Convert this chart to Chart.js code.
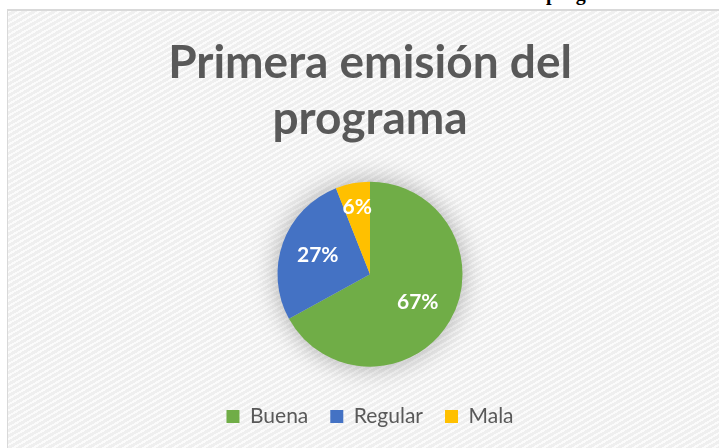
<!DOCTYPE html>
<html>
<head>
<meta charset="utf-8">
<script src="https://cdn.jsdelivr.net/npm/chart.js@4.4.1/dist/chart.umd.min.js"></script>
<style>
  html, body { margin: 0; padding: 0; background: #ffffff; }
  body { width: 719px; height: 448px; position: relative; overflow: hidden; }
  #clipped {
    position: absolute; left: 546px; top: -18px;
    font: bold 20px "Liberation Serif", serif; color: #000;
  }
  #frame {
    position: absolute; left: 7px; top: 9px; width: 712px; height: 439px;
    border-left: 1px solid #d9d9d9; border-top: 2px solid #d9d9d9;
    box-sizing: border-box;
    background-color: #f3f3f3;
    background-image: repeating-linear-gradient(150deg, #fbfbfb 0px, #fbfbfb 2px, #efefef 2px, #efefef 5px);
  }
  #chart-box { position: absolute; left: 1px; top: 1px; width: 711px; height: 438px; }
</style>
</head>
<body>
<div id="clipped">programa</div>
<div id="frame">
  <div id="chart-box"><canvas id="pieChart" width="711" height="438"></canvas></div>
</div>
<script>
// --- DATA ---
const categories = ['Buena', 'Regular', 'Mala'];
const percentValues = [67, 27, 6];
const sliceColors = ['#70AD47', '#4472C4', '#FFC000'];
const titleLines = ['Primera emisión del', 'programa'];

// soft shadow under the pie
const pieShadow = {
    id: 'pieShadow',
    beforeDatasetsDraw(chart) {
        const arc = chart.getDatasetMeta(0).data[0];
        if (!arc) return;
        const ctx = chart.ctx;
        ctx.save();
        ctx.shadowColor = 'rgba(0,0,0,0.35)';
        ctx.shadowBlur = 28;
        ctx.fillStyle = '#cfcfcf';
        ctx.beginPath();
        ctx.arc(arc.x, arc.y, arc.outerRadius - 2, 0, Math.PI * 2);
        ctx.fill();
        ctx.restore();
    }
};

// percentage labels inside the slices
const sliceLabels = {
    id: 'sliceLabels',
    afterDatasetsDraw(chart) {
        const ctx = chart.ctx;
        ctx.save();
        ctx.fillStyle = '#ffffff';
        ctx.font = 'bold 21px Lato, "Open Sans", sans-serif';
        ctx.textAlign = 'center';
        ctx.textBaseline = 'middle';
        chart.getDatasetMeta(0).data.forEach((arc, i) => {
            const mid = (arc.startAngle + arc.endAngle) / 2;
            const r = arc.outerRadius * (percentValues[i] < 10 ? 0.74 : 0.6);
            ctx.fillText(percentValues[i] + '%', arc.x + Math.cos(mid) * r, arc.y + Math.sin(mid) * r);
        });
        ctx.restore();
    }
};

new Chart(document.getElementById('pieChart'), {
    type: 'pie',
    data: {
        labels: categories,
        datasets: [{
            data: percentValues,
            backgroundColor: sliceColors,
            borderWidth: 0,
            radius: 92.5
        }]
    },
    options: {
        responsive: false,
        animation: false,
        layout: { padding: { left: 11, right: 0, top: 0, bottom: 13 } },
        plugins: {
            title: {
                display: true,
                text: titleLines,
                color: '#595959',
                font: { family: 'Lato, "Open Sans", sans-serif', size: 46, weight: 'bold', lineHeight: 1.2 },
                padding: { top: 24, bottom: 18 }
            },
            legend: {
                position: 'bottom',
                labels: {
                    color: '#595959',
                    boxWidth: 13,
                    boxHeight: 13,
                    padding: 22,
                    font: { family: 'Lato, "Open Sans", sans-serif', size: 21 }
                }
            },
            tooltip: { enabled: false }
        }
    },
    plugins: [pieShadow, sliceLabels]
});
</script>
</body>
</html>
